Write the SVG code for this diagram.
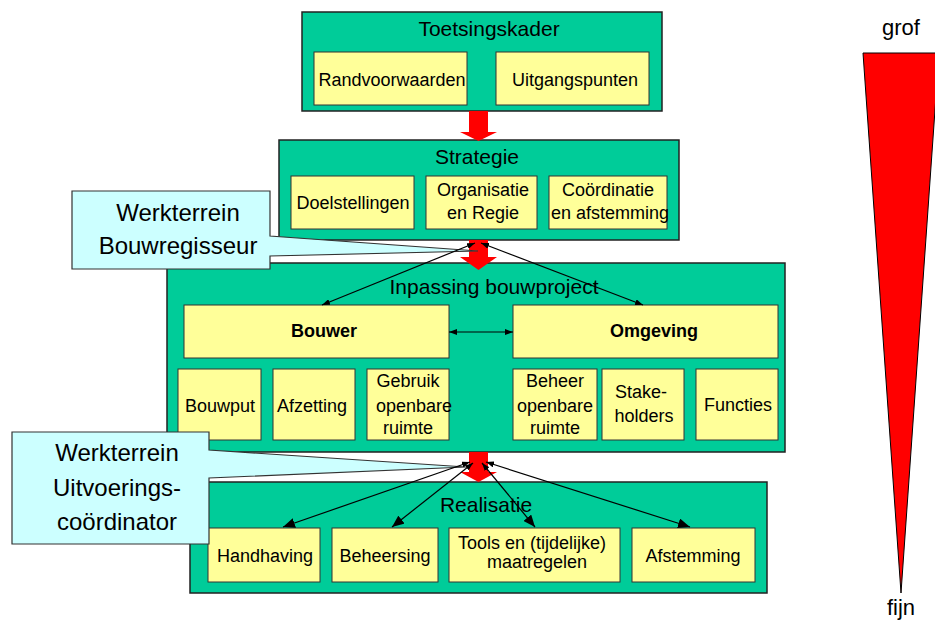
<svg xmlns="http://www.w3.org/2000/svg" width="935" height="620" viewBox="0 0 935 620">
<style>
.g{fill:#00CC99;stroke:#222;stroke-width:1.5}
.y{fill:#FFFF99;stroke:#333;stroke-width:1}
.c{fill:#CCFFFF;stroke:#333;stroke-width:1.2}
.red{fill:#FF0000}
text{font-family:"Liberation Sans",Arial,sans-serif;fill:#000;text-anchor:middle}
.t{font-size:21px}
.i{font-size:18px}
.b{font-size:18px;font-weight:bold}
.w{font-size:24px}
.con line{stroke:#000;stroke-width:1.2;fill:none}
</style>
<defs>
<marker id="as" viewBox="0 0 8 6" refX="8" refY="3" markerWidth="8" markerHeight="6" markerUnits="userSpaceOnUse" orient="auto-start-reverse"><path d="M0,0 L8,3 L0,6 z" fill="#000"/></marker>
<marker id="al" viewBox="0 0 12 10" refX="12" refY="5" markerWidth="12" markerHeight="10" markerUnits="userSpaceOnUse" orient="auto-start-reverse"><path d="M0,0 L12,5 L0,10 z" fill="#000"/></marker>
</defs>

<g id="toetsingskader">
<rect class="g" x="302" y="12" width="360" height="99"/>
<text class="t" x="489" y="36">Toetsingskader</text>
</g>
<g id="randvoorwaarden"><rect class="y" x="314" y="52" width="153" height="53"/><text class="i" x="392" y="86">Randvoorwaarden</text></g>
<g id="uitgangspunten"><rect class="y" x="496" y="52" width="153" height="53"/><text class="i" x="575" y="86">Uitgangspunten</text></g>

<g id="strategie">
<rect class="g" x="279" y="140" width="400" height="100"/>
<text class="t" x="477" y="164">Strategie</text>
</g>
<g id="doelstellingen"><rect class="y" x="291" y="176" width="123" height="53"/><text class="i" x="353" y="209">Doelstellingen</text></g>
<g id="organisatie"><rect class="y" x="426" y="176" width="111" height="53"/><text class="i" x="483" y="196">Organisatie</text><text class="i" x="483" y="219">en Regie</text></g>
<g id="coordinatie"><rect class="y" x="549" y="176" width="118" height="53"/><text class="i" x="608" y="196">Coördinatie</text><text class="i" x="610" y="219">en afstemming</text></g>

<g id="inpassing">
<rect class="g" x="167" y="263" width="618" height="189"/>
<text class="t" x="494" y="294">Inpassing bouwproject</text>
</g>
<g id="bouwer"><rect class="y" x="184" y="305" width="265" height="53"/><text class="b" x="324" y="337">Bouwer</text></g>
<g id="omgeving"><rect class="y" x="513" y="305" width="265" height="53"/><text class="b" x="654" y="337">Omgeving</text></g>
<g id="bouwput"><rect class="y" x="178" y="369" width="83" height="71"/><text class="i" x="220" y="412">Bouwput</text></g>
<g id="afzetting"><rect class="y" x="273" y="369" width="82" height="71"/><text class="i" x="312" y="412">Afzetting</text></g>
<g id="gebruik"><rect class="y" x="367" y="369" width="82" height="71"/><text class="i" x="408" y="387">Gebruik</text><text class="i" x="414" y="412">openbare</text><text class="i" x="408" y="434">ruimte</text></g>
<g id="beheer"><rect class="y" x="513" y="369" width="84" height="71"/><text class="i" x="555" y="387">Beheer</text><text class="i" x="555" y="412">openbare</text><text class="i" x="555" y="434">ruimte</text></g>
<g id="stakeholders"><rect class="y" x="602" y="369" width="82" height="71"/><text class="i" x="641" y="398">Stake-</text><text class="i" x="644" y="422">holders</text></g>
<g id="functies"><rect class="y" x="696" y="369" width="82" height="71"/><text class="i" x="738" y="411">Functies</text></g>

<g id="realisatie">
<rect class="g" x="190" y="482" width="577" height="111"/>
<text class="t" x="486" y="512">Realisatie</text>
</g>
<g id="handhaving"><rect class="y" x="208" y="528" width="112" height="54"/><text class="i" x="265" y="562">Handhaving</text></g>
<g id="beheersing"><rect class="y" x="332" y="528" width="106" height="54"/><text class="i" x="385" y="562">Beheersing</text></g>
<g id="tools"><rect class="y" x="449" y="528" width="171" height="54"/><text class="i" x="532" y="549">Tools en (tijdelijke)</text><text class="i" x="537" y="568">maatregelen</text></g>
<g id="afstemming"><rect class="y" x="632" y="528" width="123" height="54"/><text class="i" x="693" y="562">Afstemming</text></g>

<g id="flow-arrows">
<polygon class="red" points="469,111 488,111 488,132 497,132 478.5,141 460,132 469,132"/>
<polygon class="red" points="469,240 488,240 488,257 497,257 478.5,270 460,257 469,257"/>
<polygon class="red" points="469,452 488,452 488,472 497,472 478.5,482 460,472 469,472"/>
</g>

<g id="callout-bouwregisseur">
<path class="c" d="M72,191 H270 V236 L478,251 L270,256 V269 H72 Z"/>
<text class="w" x="178" y="221">Werkterrein</text>
<text class="w" x="178" y="254">Bouwregisseur</text>
</g>
<g id="callout-uitvoering">
<path class="c" d="M12,432 H209 V450 L466,467 L209,478 V544 H12 Z"/>
<text class="w" x="117" y="461">Werkterrein</text>
<text class="w" x="117" y="496">Uitvoerings-</text>
<text class="w" x="117" y="530">coördinator</text>
</g>

<g id="connectors" class="con">
<line x1="475" y1="243" x2="322" y2="305" marker-start="url(#as)" marker-end="url(#as)"/>
<line x1="481" y1="243" x2="643" y2="305" marker-start="url(#as)" marker-end="url(#as)"/>
<line x1="449" y1="332" x2="513" y2="332" marker-start="url(#as)" marker-end="url(#as)"/>
<line x1="470" y1="462" x2="283" y2="527" marker-start="url(#as)" marker-end="url(#al)"/>
<line x1="473" y1="463" x2="392" y2="527" marker-start="url(#as)" marker-end="url(#al)"/>
<line x1="482" y1="463" x2="535" y2="527" marker-start="url(#as)" marker-end="url(#al)"/>
<line x1="486" y1="462" x2="690" y2="527" marker-start="url(#as)" marker-end="url(#al)"/>
</g>

<g id="scale">
<polygon points="863,53 939,53 901,593" fill="#FF0000" stroke="#000" stroke-width="1"/>
<text class="w" style="font-size:22px" x="901" y="35">grof</text>
<text class="w" style="font-size:22px" x="901" y="615">fijn</text>
</g>
</svg>
